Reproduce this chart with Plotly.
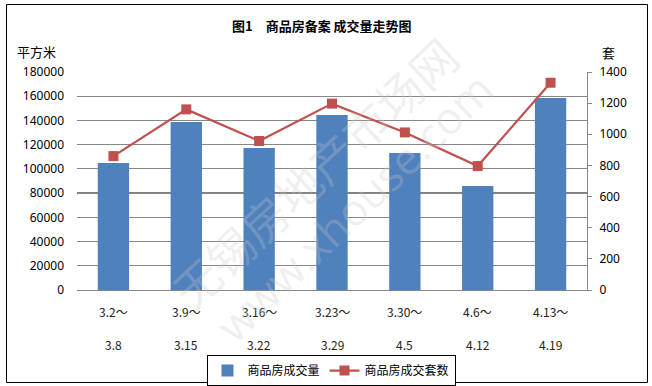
import plotly.graph_objects as go

# ---- data ----
cat_start = ["3.2～", "3.9～", "3.16～", "3.23～", "3.30～", "4.6～", "4.13～"]
cat_end = ["3.8", "3.15", "3.22", "3.29", "4.5", "4.12", "4.19"]
categories = [f"{a}|{b}" for a, b in zip(cat_start, cat_end)]
area_values = [104900, 138700, 117200, 144500, 113100, 85900, 158500]   # 平方米
unit_values = [860, 1160, 957, 1197, 1012, 796, 1331]                    # 套
left_ticks = [0, 20000, 40000, 60000, 80000, 100000, 120000, 140000, 160000, 180000]
right_ticks = [0, 200, 400, 600, 800, 1000, 1200, 1400]

W, H = 652, 386
L, R, T, B = 77, 65, 72, 96
pw, ph = W - L - R, H - T - B

def px_x(x):
    return (x - L) / pw

def px_y(y):
    return (H - B - y) / ph

FONT = "Noto Sans CJK SC, Noto Sans, sans-serif"
GRID = "#878787"

fig = go.Figure()
fig.add_trace(go.Bar(
    x=categories, y=area_values, name="商品房成交量",
    marker=dict(color="#4F81BD", line=dict(width=0)), width=0.43,
    yaxis="y",
))
fig.add_trace(go.Scatter(
    x=categories, y=unit_values, name="商品房成交套数",
    mode="lines+markers",
    line=dict(color="#C0504D", width=2.25),
    marker=dict(symbol="square", size=10, color="#C0504D"),
    yaxis="y2",
))

annotations = []
for c, a, b in zip(categories, cat_start, cat_end):
    annotations.append(dict(x=c, y=px_y(311), xref="x", yref="paper", text=a,
                            showarrow=False, yanchor="middle",
                            font=dict(size=12, color="#222", family=FONT)))
    annotations.append(dict(x=c, y=px_y(344), xref="x", yref="paper", text=b,
                            showarrow=False, yanchor="middle",
                            font=dict(size=12, color="#222", family=FONT)))

# title and axis unit labels
annotations.append(dict(x=px_x(322), y=px_y(25), xref="paper", yref="paper",
                        text="<b>图1　商品房备案 成交量走势图</b>", showarrow=False,
                        yanchor="middle",
                        font=dict(size=13, color="#000", family=FONT)))
annotations.append(dict(x=px_x(15), y=px_y(51), xref="paper", yref="paper",
                        text="平方米", showarrow=False, xanchor="left", yanchor="middle",
                        font=dict(size=13, color="#000", family=FONT)))
annotations.append(dict(x=px_x(617), y=px_y(52), xref="paper", yref="paper",
                        text="套", showarrow=False, yanchor="middle",
                        font=dict(size=13, color="#000", family=FONT)))

# watermark
annotations.append(dict(x=px_x(314), y=px_y(172), xref="paper", yref="paper",
                        text="无锡房地产市场网", showarrow=False, textangle=-43,
                        xanchor="center", yanchor="middle",
                        font=dict(size=46, color="rgba(200,200,200,0.28)", family=FONT)))
annotations.append(dict(x=px_x(354), y=px_y(207), xref="paper", yref="paper",
                        text="www.xhouse.com", showarrow=False, textangle=-44,
                        xanchor="center", yanchor="middle",
                        font=dict(size=44, color="rgba(200,200,200,0.28)", family="Open Sans, sans-serif")))

shapes = [
    dict(type="rect", xref="paper", yref="paper",
         x0=px_x(6.5), x1=px_x(647.5), y0=px_y(382.5), y1=px_y(4.5),
         line=dict(color="#000", width=1), fillcolor="rgba(0,0,0,0)", layer="below"),
    dict(type="line", xref="paper", yref="y", x0=0, x1=1, y0=80000, y1=80000,
         line=dict(color="#808080", width=2), layer="below"),
]

fig.update_layout(
    width=W, height=H,
    margin=dict(l=L, r=R, t=T, b=B, autoexpand=False),
    paper_bgcolor="white", plot_bgcolor="white",
    showlegend=True,
    legend=dict(orientation="h", xref="container", yref="container",
                x=331 / W, xanchor="center", y=1 - 355 / H, yanchor="top",
                bordercolor="#000", borderwidth=1, bgcolor="white",
                font=dict(size=12, color="#000", family=FONT),
                itemwidth=30, tracegroupgap=0),
    xaxis=dict(showticklabels=False, showgrid=False, showline=True,
               linecolor=GRID, linewidth=1, ticks="", range=[-0.5, 6.5]),
    yaxis=dict(range=[0, 180000], tickvals=left_ticks, ticktext=[str(v) for v in left_ticks],
               showgrid=True, gridcolor=GRID, gridwidth=1, zeroline=False,
               showline=False, ticks="", ticklabelstandoff=12,
               tickfont=dict(size=12, color="#000", family="Noto Sans, sans-serif")),
    yaxis2=dict(range=[0, 1400], tickvals=right_ticks, overlaying="y", side="right",
                showgrid=False, zeroline=False, showline=True, linecolor=GRID, linewidth=1,
                ticks="outside", ticklen=4, tickcolor=GRID, ticklabelstandoff=5,
                tickfont=dict(size=12, color="#000", family="Noto Sans, sans-serif")),
    annotations=annotations,
    shapes=shapes,
    bargap=0.57,
)

fig.write_html("out.html")
